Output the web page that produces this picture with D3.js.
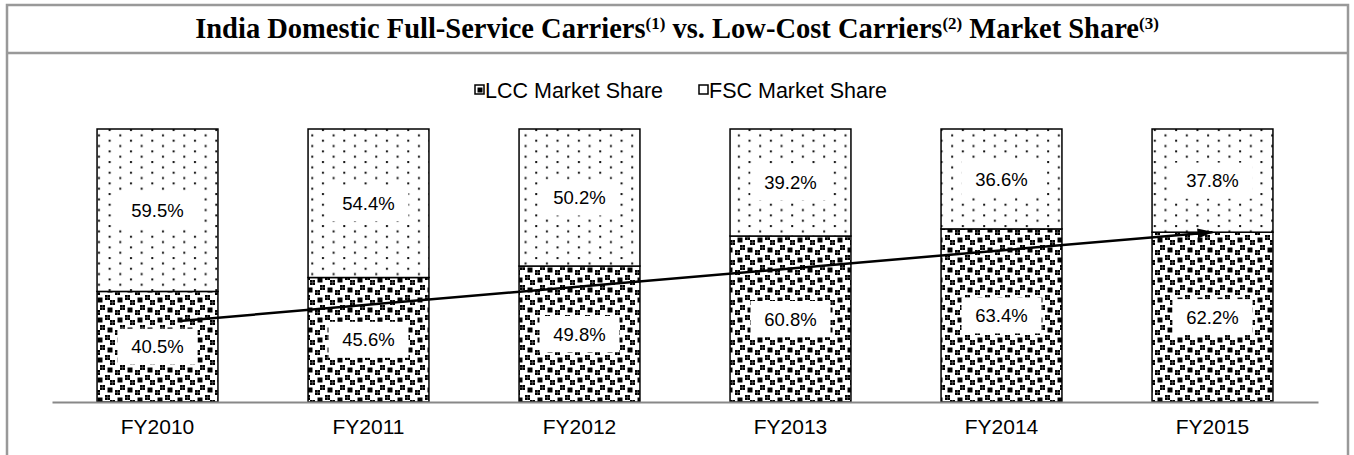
<!DOCTYPE html>
<html>
<head>
<meta charset="utf-8">
<script src="https://cdn.jsdelivr.net/npm/d3@7"></script>
<style>
  body { margin: 0; background: #fff; }
  svg { display: block; }
  text { font-family: Arial, "Liberation Sans", sans-serif; fill: #000; }
  .title { font-family: "Times New Roman", "Liberation Serif", serif; font-weight: bold; }
</style>
</head>
<body>
<svg id="chart"></svg>
<script>
const width = 1354;
const height = 455;

// data
const years = ["FY2010", "FY2011", "FY2012", "FY2013", "FY2014", "FY2015"];
const lccShare = [40.5, 45.6, 49.8, 60.8, 63.4, 62.2];
const fscShare = [59.5, 54.4, 50.2, 39.2, 36.6, 37.8];
const seriesNames = ["LCC Market Share", "FSC Market Share"];

var svg = d3.select("#chart").attr("width", width).attr("height", height);

var xScale = d3.scaleBand().domain(years).range([52, 1318])
  .paddingInner(0.427).paddingOuter(0.2135);
var yScale = d3.scaleLinear().domain([0, 100]).range([402, 129]);

// fill patterns (black & white like the original)
var defs = svg.append("defs");

var fscPat = defs.append("pattern").attr("id", "fsc")
  .attr("patternUnits", "userSpaceOnUse")
  .attr("width", 21.33).attr("height", 10.67);
fscPat.append("rect").attr("width", 21.33).attr("height", 10.67).attr("fill", "#fff");
[[2, 1], [12.67, 6.33]].forEach(p => {
  fscPat.append("rect").attr("x", p[0]).attr("y", p[1])
    .attr("width", 2).attr("height", 2).attr("fill", "#111");
});

// large confetti bits, 8x8 tile
var confetti = [0x8d, 0x0c, 0xc0, 0xd8, 0x1b, 0x03, 0x30, 0xb1];
var cs = 2.5;
var lccPat = defs.append("pattern").attr("id", "lcc")
  .attr("patternUnits", "userSpaceOnUse")
  .attr("width", 8 * cs).attr("height", 8 * cs);
lccPat.append("rect").attr("width", 8 * cs).attr("height", 8 * cs).attr("fill", "#fff");
confetti.forEach((row, r) => {
  for (let c = 0; c < 8; c++) {
    if (row & (0x80 >> c)) {
      lccPat.append("rect").attr("x", c * cs).attr("y", r * cs)
        .attr("width", cs).attr("height", cs).attr("fill", "#000");
    }
  }
});

// frame + title bar
svg.append("rect").attr("x", 7).attr("y", 5).attr("width", 1341).attr("height", 470)
  .attr("fill", "#fff").attr("stroke", "#999").attr("stroke-width", 2.5);
svg.append("line").attr("x1", 7).attr("x2", 1348).attr("y1", 53).attr("y2", 53)
  .attr("stroke", "#999").attr("stroke-width", 2.5);

var title = svg.append("text").attr("class", "title")
  .attr("x", 677).attr("y", 38).attr("text-anchor", "middle")
  .style("font-size", "28.5px");
var titleParts = [
  ["India Domestic Full-Service Carriers", false], ["(1)", true],
  [" vs. Low-Cost Carriers", false], ["(2)", true],
  [" Market Share", false], ["(3)", true]
];
titleParts.forEach(p => {
  var t = title.append("tspan").text(p[0])
    .style("font-size", p[1] ? "17px" : "28.5px");
  if (p[1]) t.attr("baseline-shift", "9px");
});

// legend
var legend = svg.append("g").attr("transform", "translate(0,90)");
var legendX = [475, 699];
seriesNames.forEach((name, i) => {
  legend.append("rect").attr("x", legendX[i]).attr("y", -5)
    .attr("width", 9).attr("height", 9)
    .attr("fill", i == 0 ? "url(#lcc)" : "#fff")
    .attr("stroke", "#000").attr("stroke-width", 1.5);
  legend.append("text").attr("x", legendX[i] + 10).attr("y", 0)
    .attr("dy", "0.35em").style("font-size", "21.5px").text(name);
});

// bars
var rows = years.map((y, i) => ({ year: y, lcc: lccShare[i], fsc: fscShare[i] }));
var stack = d3.stack().keys(["lcc", "fsc"])(rows);

var layers = svg.selectAll("g.layer")
  .data(stack)
  .enter()
  .append("g")
  .attr("class", "layer")
  .attr("fill", d => d.key == "lcc" ? "url(#lcc)" : "url(#fsc)");

layers.selectAll("rect")
  .data(d => d)
  .enter()
  .append("rect")
  .attr("x", d => xScale(d.data.year))
  .attr("y", d => yScale(d[1]))
  .attr("width", xScale.bandwidth())
  .attr("height", d => yScale(d[0]) - yScale(d[1]))
  .attr("stroke", "#000")
  .attr("stroke-width", 1.5);

// axis
var xAxis = svg.append("g").attr("transform", "translate(0,402)")
  .call(d3.axisBottom(xScale).tickSize(0).tickPadding(17));
xAxis.select(".domain").attr("stroke", "#888").attr("stroke-width", 2);
xAxis.selectAll("text").style("font-size", "21px")
  .style("font-family", "Arial, 'Liberation Sans', sans-serif");

// trend arrow
defs.append("marker").attr("id", "arrowhead")
  .attr("viewBox", "0 0 16 10").attr("refX", 15).attr("refY", 5)
  .attr("markerWidth", 6.4).attr("markerHeight", 4)
  .attr("markerUnits", "strokeWidth").attr("orient", "auto")
  .append("path").attr("d", "M0,0 L16,5 L0,10 Z").attr("fill", "#000");

svg.append("line")
  .attr("x1", xScale(years[0]) + xScale.bandwidth() * 0.686)
  .attr("y1", yScale(29.7))
  .attr("x2", xScale(years[5]) + xScale.bandwidth() / 2)
  .attr("y2", yScale(lccShare[5]))
  .attr("stroke", "#000").attr("stroke-width", 2.5)
  .attr("marker-end", "url(#arrowhead)");

// value labels with white boxes
var labels = [];
stack.forEach(layer => layer.forEach(d => {
  labels.push({ year: d.data.year, v: d[1] - d[0], mid: (d[0] + d[1]) / 2 });
}));

var lab = svg.selectAll("g.lab")
  .data(labels)
  .enter()
  .append("g")
  .attr("class", "lab")
  .attr("transform", d => `translate(${xScale(d.year) + xScale.bandwidth() / 2},${yScale(d.mid)})`);

lab.append("rect").attr("x", -40).attr("y", -18).attr("width", 80).attr("height", 36)
  .attr("fill", "#fff");
lab.append("text").attr("text-anchor", "middle").attr("dy", "0.36em")
  .style("font-size", "18.5px")
  .text(d => d.v.toFixed(1) + "%");
</script>
</body>
</html>
